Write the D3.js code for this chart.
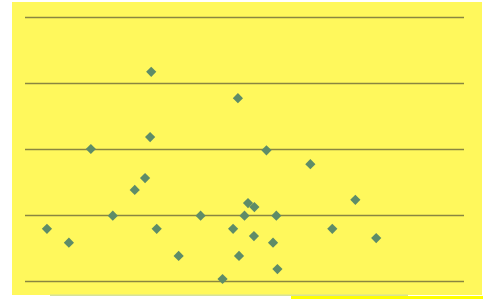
<!DOCTYPE html>
<html>
<head>
<meta charset="utf-8">
<script src="https://cdn.jsdelivr.net/npm/d3@7"></script>
<style>
  html, body { margin: 0; padding: 0; background: #fff; }
  svg { display: block; }
</style>
</head>
<body>
<div id="chart"></div>
<script>
// values
const xValues = [5.75, 9.7, 5.7, 3, 11, 13, 5.47, 5, 15.05, 4, 8, 10, 11.45, 10.16, 10.45,
  1, 6, 9.48, 14, 2, 10.43, 11.3, 16, 7, 9.75, 11.5, 9];
const yValues = [3.17, 2.77, 2.18, 2.0, 1.98, 1.77, 1.56, 1.38, 1.23, 0.99, 0.99, 0.99, 0.99, 1.18, 1.12,
  0.79, 0.79, 0.79, 0.79, 0.58, 0.68, 0.58, 0.65, 0.38, 0.38, 0.18, 0.03];
const yTicks = [0, 1, 2, 3, 4];

const width = 488, height = 299;
const marginLeft = 25, marginRight = 24, marginTop = 17, marginBottom = 18;

const x = d3.scaleLinear([0, 20], [marginLeft, width - marginRight]);
const y = d3.scaleLinear([0, 4], [height - marginBottom, marginTop]);

const svg = d3.select("#chart").append("svg")
    .attr("width", width)
    .attr("height", height)
    .attr("viewBox", [0, 0, width, height]);

// plot background
svg.append("rect")
    .attr("x", 12).attr("y", 2)
    .attr("width", 470).attr("height", 293)
    .attr("fill", "#fff85c");

// faint cropped strip along the bottom
svg.append("rect")
    .attr("x", 50).attr("y", 294.5)
    .attr("width", 358).attr("height", 1.5)
    .attr("fill", "#d6e29a");
svg.append("rect")
    .attr("x", 291).attr("y", 296)
    .attr("width", 192).attr("height", 3)
    .attr("fill", "#ffff00");

// horizontal grid
const yAxis = d3.axisLeft(y).tickValues(yTicks).tickSize(-(width - marginLeft - marginRight)).tickFormat("");
svg.append("g")
    .attr("transform", `translate(${marginLeft},0)`)
    .call(yAxis)
    .call(g => g.select(".domain").remove())
    .call(g => g.selectAll(".tick line")
        .attr("stroke", "#8a8640")
        .attr("stroke-width", 1.6));

// diamonds
const diamond = d3.symbol(d3.symbolSquare, 52);
svg.append("g")
    .attr("fill", "#5e8c68")
  .selectAll("path")
  .data(d3.range(xValues.length))
  .join("path")
    .attr("transform", i => `translate(${x(xValues[i])},${y(yValues[i])}) rotate(45)`)
    .attr("d", diamond);
</script>
</body>
</html>
